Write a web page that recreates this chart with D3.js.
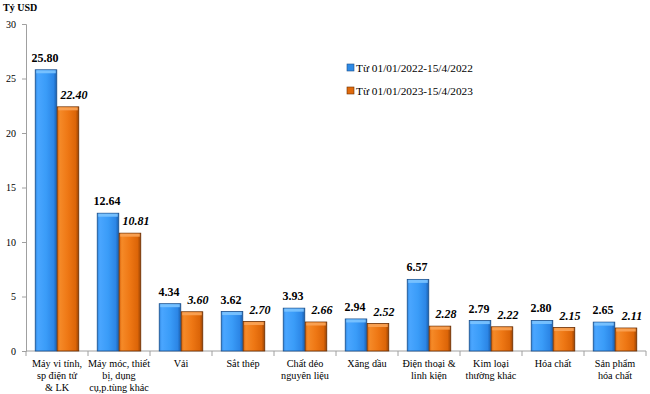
<!DOCTYPE html>
<html>
<head>
<meta charset="utf-8">
<script src="https://cdn.jsdelivr.net/npm/d3@7"></script>
<style>
  body { margin: 0; background: #fff; }
</style>
</head>
<body>
<div id="chart"></div>
<script>
  'use strict';

  // data
  var categories = [
    ['Máy vi tính,', 'sp điện tử', '& LK'],
    ['Máy móc, thiết', 'bị, dụng', 'cụ,p.tùng khác'],
    ['Vải'],
    ['Sắt thép'],
    ['Chất dẻo', 'nguyên liệu'],
    ['Xăng dầu'],
    ['Điện thoại &', 'linh kiện'],
    ['Kim loại', 'thường khác'],
    ['Hóa chất'],
    ['Sản phẩm', 'hóa chất']
  ];
  var values2022 = [25.80, 12.64, 4.34, 3.62, 3.93, 2.94, 6.57, 2.79, 2.80, 2.65];
  var values2023 = [22.40, 10.81, 3.60, 2.70, 2.66, 2.52, 2.28, 2.22, 2.15, 2.11];
  var seriesNames = ['Từ 01/01/2022-15/4/2022', 'Từ 01/01/2023-15/4/2023'];
  var yTicks = [0, 5, 10, 15, 20, 25, 30];

  var width = 650, height = 394;
  var area = { left: 26, top: 24, right: 646, bottom: 351 };
  var serif = '"Liberation Serif", "Times New Roman", "DejaVu Serif", serif';

  var svg = d3.select('#chart').append('svg')
    .attr('width', width)
    .attr('height', height)
    .attr('font-family', serif)
    .style('font-family', serif);

  // gradients for the bevelled bars
  var defs = svg.append('defs');
  function grad(id, stops) {
    var g = defs.append('linearGradient').attr('id', id)
      .attr('x1', '0').attr('x2', '1').attr('y1', '0').attr('y2', '0');
    stops.forEach(function(s) {
      g.append('stop').attr('offset', s[0]).attr('stop-color', s[1]);
    });
  }
  grad('gBlue', [[0, '#2f86e0'], [0.12, '#4aa6ff'], [0.5, '#3a9cf8'], [0.85, '#2c86e6'], [1, '#1a5fae']]);
  grad('gOrange', [[0, '#d7620a'], [0.12, '#f58a28'], [0.5, '#ee7714'], [0.85, '#dc6508'], [1, '#9a4404']]);

  var x = d3.scaleBand()
    .domain(d3.range(categories.length))
    .range([area.left, area.right])
    .paddingInner(0)
    .paddingOuter(0);

  var x1 = d3.scaleBand()
    .domain([0, 1])
    .range([0, x.bandwidth()])
    .paddingInner(0.02)
    .paddingOuter(0.42);

  var y = d3.scaleLinear()
    .domain([0, 30])
    .range([area.bottom, area.top]);

  // y axis
  var yAxis = d3.axisLeft(y).tickValues(yTicks).tickSize(4).tickPadding(6);
  var gy = svg.append('g')
    .attr('transform', 'translate(' + area.left + ',0)')
    .call(yAxis);
  gy.attr('font-family', null).attr('font-size', null);
  gy.select('.domain').attr('stroke', '#a0a0a0');
  gy.selectAll('.tick line').attr('stroke', '#a0a0a0');
  gy.selectAll('text').attr('font-size', 10).attr('fill', '#000')
    .style('font-family', serif);

  // x axis (ticks between categories)
  var gx = svg.append('g').attr('transform', 'translate(0,' + area.bottom + ')');
  gx.append('line')
    .attr('x1', area.left).attr('x2', area.right)
    .attr('stroke', '#a0a0a0');
  gx.selectAll('line.tk')
    .data(d3.range(categories.length + 1))
    .enter().append('line')
    .attr('class', 'tk')
    .attr('x1', function(d) { return d < categories.length ? x(d) : area.right; })
    .attr('x2', function(d) { return d < categories.length ? x(d) : area.right; })
    .attr('y1', 0).attr('y2', 5)
    .attr('stroke', '#a0a0a0');

  // category labels
  var catG = svg.append('g').selectAll('text')
    .data(categories)
    .enter().append('text')
    .attr('text-anchor', 'middle')
    .attr('font-size', 10.2)
    .attr('fill', '#000')
    .attr('transform', function(d, i) { return 'translate(' + (x(i) + x.bandwidth() / 2) + ',' + (area.bottom + 16) + ')'; });
  catG.selectAll('tspan')
    .data(function(d) { return d; })
    .enter().append('tspan')
    .attr('x', 0)
    .attr('y', function(d, i) { return i * 12; })
    .text(function(d) { return d; });

  // bars
  var series = [
    { name: seriesNames[0], values: values2022, fill: 'url(#gBlue)', edge: '#1c4f8a', cap: '#7cc4ff', legend: '#2e8ae6' },
    { name: seriesNames[1], values: values2023, fill: 'url(#gOrange)', edge: '#6b2f03', cap: '#f9a458', legend: '#e06a0c' }
  ];

  series.forEach(function(s, si) {
    var g = svg.append('g');
    var bars = g.selectAll('g.bar')
      .data(s.values)
      .enter().append('g')
      .attr('class', 'bar');

    bars.append('rect')
      .attr('x', function(d, i) { return x(i) + x1(si); })
      .attr('y', function(d) { return y(d); })
      .attr('width', x1.bandwidth())
      .attr('height', function(d) { return area.bottom - y(d); })
      .attr('fill', s.fill)
      .attr('stroke', s.edge)
      .attr('stroke-width', 0.8);

    // top bevel
    bars.append('rect')
      .attr('x', function(d, i) { return x(i) + x1(si) + 1; })
      .attr('y', function(d) { return y(d) + 0.5; })
      .attr('width', x1.bandwidth() - 2)
      .attr('height', 3)
      .attr('fill', s.cap)
      .attr('opacity', 0.9);

    // value labels
    g.selectAll('text.val')
      .data(s.values)
      .enter().append('text')
      .attr('class', 'val')
      .attr('x', function(d, i) { return x(i) + x1(si) + x1.bandwidth() / 2 + (si === 0 ? -1 : 6); })
      .attr('y', function(d) { return y(d) - 8; })
      .attr('text-anchor', 'middle')
      .attr('font-size', 12)
      .attr('font-weight', 'bold')
      .attr('font-style', si === 0 ? 'normal' : 'italic')
      .attr('fill', '#000')
      .text(function(d) { return d3.format('.2f')(d); });
  });

  // legend
  var legend = svg.append('g').selectAll('g')
    .data(series)
    .enter().append('g')
    .attr('transform', function(d, i) { return 'translate(347,' + (68 + i * 23) + ')'; });
  legend.append('rect')
    .attr('x', 0).attr('y', -4)
    .attr('width', 7).attr('height', 7)
    .attr('fill', function(d) { return d.legend; })
    .attr('stroke', function(d) { return d.edge; })
    .attr('stroke-width', 0.6);
  legend.append('text')
    .attr('x', 9).attr('y', 4)
    .attr('font-size', 11.3)
    .attr('fill', '#000')
    .text(function(d) { return d.name; });

  // unit title
  svg.append('text')
    .attr('x', 3).attr('y', 11)
    .attr('font-size', 10)
    .attr('font-weight', 'bold')
    .attr('fill', '#000')
    .text('Tỷ USD');
</script>
</body>
</html>
